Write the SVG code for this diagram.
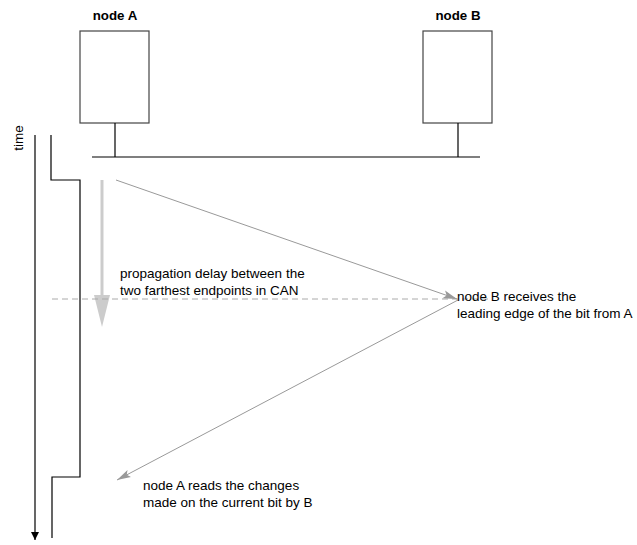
<svg xmlns="http://www.w3.org/2000/svg" width="637" height="545" viewBox="0 0 637 545">
<style>
text{font-family:"Liberation Sans",Arial,sans-serif;font-size:13.5px;fill:#000}
.title{font-weight:bold;text-anchor:middle;font-size:13.3px}
.box{fill:#fff;stroke:#444;stroke-width:1.2}
.blk{fill:none;stroke:#000;stroke-width:1.2}
.gray{fill:none;stroke:#999;stroke-width:1}
</style>
<defs>
<marker id="ab" markerWidth="10" markerHeight="10" refX="8" refY="4" orient="auto" markerUnits="userSpaceOnUse" viewBox="0 0 10 8"><path d="M0,0 L8,4 L0,8 Z" fill="#000"/></marker>
<marker id="ag" markerWidth="14" markerHeight="10" refX="14" refY="4" orient="auto" markerUnits="userSpaceOnUse" viewBox="0 0 14 8"><path d="M0,0 L14,4 L0,8 L3,4 Z" fill="#999"/></marker>
</defs>
<g id="nodeA">
<text class="title" x="115" y="20">node A</text>
<rect class="box" x="80" y="31" width="69" height="92"/>
</g>
<g id="nodeB">
<text class="title" x="458" y="20">node B</text>
<rect class="box" x="423" y="31" width="69" height="92"/>
</g>
<g id="bus">
<line class="blk" x1="92" y1="157" x2="480" y2="157"/>
<line class="blk" x1="115" y1="123" x2="115" y2="157"/>
<line class="blk" x1="458" y1="123" x2="458" y2="157"/>
</g>
<g id="time">
<text x="0" y="0" transform="translate(23,138) rotate(-90)" text-anchor="middle">time</text>
<line class="blk" x1="35" y1="135" x2="35" y2="540" marker-end="url(#ab)"/>
</g>
<g id="signal">
<polyline class="blk" points="51,135 51,180 80,180 80,477 52,477 52,538"/>
</g>
<g id="connectors">
<line x1="102" y1="180" x2="102" y2="296" stroke="#ccc" stroke-width="3"/>
<path d="M94,295 L110,295 L102,327 Z" fill="#ccc"/>
<line x1="52" y1="299" x2="492" y2="299" stroke="#aaa" stroke-width="1" stroke-dasharray="6,4"/>
<line class="gray" x1="116" y1="180" x2="457" y2="299" marker-end="url(#ag)"/>
<line class="gray" x1="458" y1="300" x2="117" y2="480" marker-end="url(#ag)"/>
</g>
<g id="labels">
<text x="120" y="278">propagation delay between the</text>
<text x="120" y="295">two farthest endpoints in CAN</text>
<text x="457" y="301">node B receives the</text>
<text x="457" y="318">leading edge of the bit from A</text>
<text x="143" y="490">node A reads the changes</text>
<text x="143" y="507">made on the current bit by B</text>
</g>
</svg>
